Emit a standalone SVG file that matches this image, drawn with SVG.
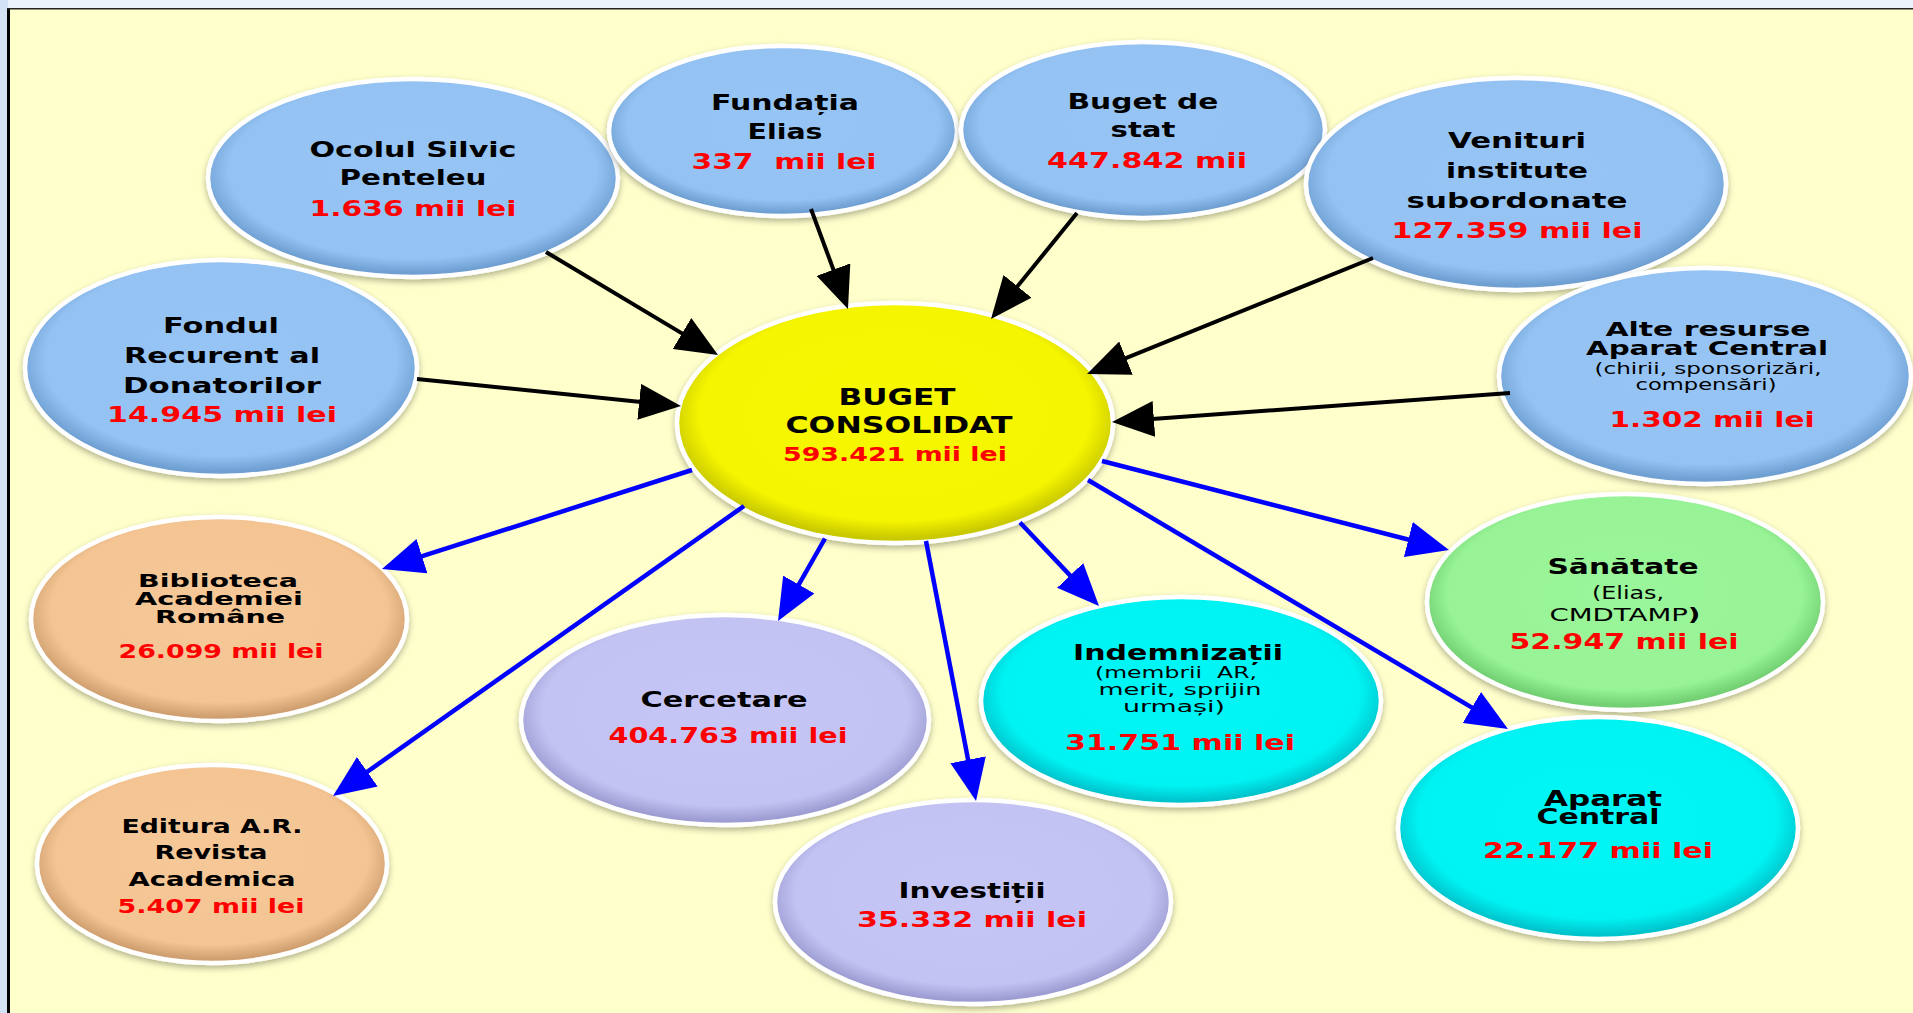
<svg xmlns="http://www.w3.org/2000/svg" width="1913" height="1013" viewBox="0 0 1913 1013">
<defs>
<style>
.t{font-family:"DejaVu Sans","Liberation Sans",sans-serif;font-weight:bold;text-anchor:middle;fill:#000}
.r{fill:#ff0000}
.s{font-weight:normal}
.nd{stroke:#ffffff;stroke-width:4.5;filter:url(#sh)}
.blk{stroke:#000;stroke-width:4;fill:none;marker-end:url(#ak)}
.blu{stroke:#0000ff;stroke-width:4.5;fill:none;marker-end:url(#ab)}
</style>
<filter id="sh" x="-10%" y="-10%" width="120%" height="130%">
<feDropShadow dx="0" dy="3" stdDeviation="3" flood-color="#000" flood-opacity="0.3"/>
</filter>
<radialGradient id="gB" cx="50%" cy="46%" r="52%"><stop offset="0" stop-color="#96c5f5"/><stop offset="0.86" stop-color="#94c3f3"/><stop offset="1" stop-color="#6f9fd2"/></radialGradient>
<radialGradient id="gY" cx="50%" cy="46%" r="52%"><stop offset="0" stop-color="#f7f700"/><stop offset="0.86" stop-color="#f5f500"/><stop offset="1" stop-color="#c9c900"/></radialGradient>
<radialGradient id="gP" cx="50%" cy="46%" r="52%"><stop offset="0" stop-color="#f6c898"/><stop offset="0.86" stop-color="#f4c593"/><stop offset="1" stop-color="#cf9f70"/></radialGradient>
<radialGradient id="gL" cx="50%" cy="46%" r="52%"><stop offset="0" stop-color="#c6c6f6"/><stop offset="0.86" stop-color="#c3c3f3"/><stop offset="1" stop-color="#9d9dd3"/></radialGradient>
<radialGradient id="gC" cx="50%" cy="46%" r="52%"><stop offset="0" stop-color="#00f6f6"/><stop offset="0.86" stop-color="#00f3f3"/><stop offset="1" stop-color="#00c4cc"/></radialGradient>
<radialGradient id="gG" cx="50%" cy="46%" r="52%"><stop offset="0" stop-color="#9af69a"/><stop offset="0.86" stop-color="#97f395"/><stop offset="1" stop-color="#72cf72"/></radialGradient>
<marker id="ak" viewBox="0 0 42 36" refX="36" refY="18" markerWidth="42" markerHeight="36" markerUnits="userSpaceOnUse" orient="auto"><path d="M0,0 L42,18 L0,36 z" fill="#000"/></marker>
<marker id="ab" viewBox="0 0 42 36" refX="36" refY="18" markerWidth="42" markerHeight="36" markerUnits="userSpaceOnUse" orient="auto"><path d="M0,0 L42,18 L0,36 z" fill="#0000ff"/></marker>
</defs>

<rect x="0" y="0" width="1913" height="1013" fill="#eaf1fa"/>
<rect x="0" y="0" width="8" height="1013" fill="#d3e2f4"/>
<rect x="8" y="9" width="1905" height="1004" fill="#ffffcc"/>
<rect x="7" y="9" width="3" height="1004" fill="#000"/>
<rect x="7" y="8" width="1906" height="1.5" fill="#222"/>

<g id="ocolul">
<ellipse class="nd" cx="413" cy="178" rx="205" ry="99" fill="url(#gB)"/>
<text class="t" x="413" y="157" font-size="22" textLength="207" lengthAdjust="spacingAndGlyphs">Ocolul Silvic</text>
<text class="t" x="413" y="185" font-size="22" textLength="147" lengthAdjust="spacingAndGlyphs">Penteleu</text>
<text class="t r" x="413" y="216" font-size="21" textLength="207" lengthAdjust="spacingAndGlyphs">1.636 mii lei</text>
</g>

<g id="fundatia">
<ellipse class="nd" cx="783" cy="131" rx="174" ry="85" fill="url(#gB)"/>
<text class="t" x="785" y="110" font-size="22" textLength="148" lengthAdjust="spacingAndGlyphs">Fundația</text>
<text class="t" x="785" y="139" font-size="22" textLength="75" lengthAdjust="spacingAndGlyphs">Elias</text>
<text class="t r" x="784" y="169" font-size="21" textLength="185" lengthAdjust="spacingAndGlyphs">337&#160; mii lei</text>
</g>

<g id="buget-stat">
<ellipse class="nd" cx="1143" cy="130" rx="182" ry="88" fill="url(#gB)"/>
<text class="t" x="1143" y="109" font-size="22" textLength="151" lengthAdjust="spacingAndGlyphs">Buget de</text>
<text class="t" x="1143" y="137" font-size="22" textLength="65" lengthAdjust="spacingAndGlyphs">stat</text>
<text class="t r" x="1147" y="168" font-size="21" textLength="200" lengthAdjust="spacingAndGlyphs">447.842 mii</text>
</g>

<g id="venituri">
<ellipse class="nd" cx="1516" cy="184" rx="210" ry="106" fill="url(#gB)"/>
<text class="t" x="1517" y="148" font-size="22" textLength="138" lengthAdjust="spacingAndGlyphs">Venituri</text>
<text class="t" x="1517" y="178" font-size="22" textLength="142" lengthAdjust="spacingAndGlyphs">institute</text>
<text class="t" x="1517" y="208" font-size="22" textLength="221" lengthAdjust="spacingAndGlyphs">subordonate</text>
<text class="t r" x="1517" y="238" font-size="21" textLength="251" lengthAdjust="spacingAndGlyphs">127.359 mii lei</text>
</g>

<g id="alte-resurse">
<ellipse class="nd" cx="1705" cy="376" rx="206" ry="108" fill="url(#gB)"/>
<text class="t" x="1708" y="336" font-size="19" textLength="205" lengthAdjust="spacingAndGlyphs">Alte resurse</text>
<text class="t" x="1707" y="355" font-size="19" textLength="242" lengthAdjust="spacingAndGlyphs">Aparat Central</text>
<text class="t s" x="1708" y="374" font-size="15" textLength="227" lengthAdjust="spacingAndGlyphs">(chirii, sponsorizări,</text>
<text class="t s" x="1706" y="390" font-size="15" textLength="141" lengthAdjust="spacingAndGlyphs">compensări)</text>
<text class="t r" x="1712" y="427" font-size="21" textLength="205" lengthAdjust="spacingAndGlyphs">1.302 mii lei</text>
</g>

<g id="fondul">
<ellipse class="nd" cx="221" cy="368" rx="196" ry="108" fill="url(#gB)"/>
<text class="t" x="221" y="333" font-size="22" textLength="116" lengthAdjust="spacingAndGlyphs">Fondul</text>
<text class="t" x="222" y="363" font-size="22" textLength="196" lengthAdjust="spacingAndGlyphs">Recurent al</text>
<text class="t" x="222" y="393" font-size="22" textLength="198" lengthAdjust="spacingAndGlyphs">Donatorilor</text>
<text class="t r" x="222" y="422" font-size="21" textLength="230" lengthAdjust="spacingAndGlyphs">14.945 mii lei</text>
</g>

<g id="biblioteca">
<ellipse class="nd" cx="219" cy="619" rx="188" ry="102" fill="url(#gP)"/>
<text class="t" x="218" y="587" font-size="18" textLength="160" lengthAdjust="spacingAndGlyphs">Biblioteca</text>
<text class="t" x="219" y="605" font-size="18" textLength="168" lengthAdjust="spacingAndGlyphs">Academiei</text>
<text class="t" x="220" y="623" font-size="18" textLength="130" lengthAdjust="spacingAndGlyphs">Române</text>
<text class="t r" x="221" y="658" font-size="19" textLength="205" lengthAdjust="spacingAndGlyphs">26.099 mii lei</text>
</g>

<g id="editura">
<ellipse class="nd" cx="212" cy="864" rx="175" ry="99" fill="url(#gP)"/>
<text class="t" x="212" y="833" font-size="19" textLength="181" lengthAdjust="spacingAndGlyphs">Editura A.R.</text>
<text class="t" x="211" y="859" font-size="19" textLength="113" lengthAdjust="spacingAndGlyphs">Revista</text>
<text class="t" x="212" y="886" font-size="19" textLength="167" lengthAdjust="spacingAndGlyphs">Academica</text>
<text class="t r" x="211" y="913" font-size="19" textLength="187" lengthAdjust="spacingAndGlyphs">5.407 mii lei</text>
</g>

<g id="cercetare">
<ellipse class="nd" cx="725" cy="720" rx="204" ry="105" fill="url(#gL)"/>
<text class="t" x="724" y="707" font-size="22" textLength="167" lengthAdjust="spacingAndGlyphs">Cercetare</text>
<text class="t r" x="728" y="743" font-size="21" textLength="239" lengthAdjust="spacingAndGlyphs">404.763 mii lei</text>
</g>

<g id="investitii">
<ellipse class="nd" cx="973" cy="902" rx="198" ry="102" fill="url(#gL)"/>
<text class="t" x="972" y="898" font-size="22" textLength="147" lengthAdjust="spacingAndGlyphs">Investiții</text>
<text class="t r" x="972" y="927" font-size="21" textLength="230" lengthAdjust="spacingAndGlyphs">35.332 mii lei</text>
</g>

<g id="indemnizatii">
<ellipse class="nd" cx="1181" cy="701" rx="200" ry="104" fill="url(#gC)"/>
<text class="t" x="1178" y="660" font-size="22" textLength="210" lengthAdjust="spacingAndGlyphs">Indemnizații</text>
<text class="t s" x="1176" y="678" font-size="16" textLength="162" lengthAdjust="spacingAndGlyphs">(membrii&#160; AR,</text>
<text class="t s" x="1180" y="695" font-size="16" textLength="163" lengthAdjust="spacingAndGlyphs">merit, sprijin</text>
<text class="t s" x="1174" y="712" font-size="16" textLength="102" lengthAdjust="spacingAndGlyphs">urmași)</text>
<text class="t r" x="1180" y="750" font-size="21" textLength="230" lengthAdjust="spacingAndGlyphs">31.751 mii lei</text>
</g>

<g id="sanatate">
<ellipse class="nd" cx="1625" cy="602" rx="198" ry="108" fill="url(#gG)"/>
<text class="t" x="1623" y="574" font-size="22" textLength="151" lengthAdjust="spacingAndGlyphs">Sănătate</text>
<text class="t s" x="1628" y="599" font-size="17" textLength="72" lengthAdjust="spacingAndGlyphs">(Elias,</text>
<text class="t s" x="1625" y="621" font-size="17" textLength="151" lengthAdjust="spacingAndGlyphs">CMDTAMP<tspan font-weight="bold">)</tspan></text>
<text class="t r" x="1624" y="649" font-size="21" textLength="229" lengthAdjust="spacingAndGlyphs">52.947 mii lei</text>
</g>

<g id="aparat-central">
<ellipse class="nd" cx="1598" cy="828" rx="200" ry="111" fill="url(#gC)"/>
<text class="t" x="1603" y="806" font-size="21" textLength="118" lengthAdjust="spacingAndGlyphs">Aparat</text>
<text class="t" x="1598" y="824" font-size="21" textLength="123" lengthAdjust="spacingAndGlyphs">Central</text>
<text class="t r" x="1598" y="858" font-size="21" textLength="230" lengthAdjust="spacingAndGlyphs">22.177 mii lei</text>
</g>

<g id="buget-consolidat">
<ellipse class="nd" cx="895" cy="423" rx="218" ry="120" fill="url(#gY)"/>
<text class="t" x="897" y="405" font-size="23" textLength="117" lengthAdjust="spacingAndGlyphs">BUGET</text>
<text class="t" x="899" y="433" font-size="23" textLength="227" lengthAdjust="spacingAndGlyphs">CONSOLIDAT</text>
<text class="t r" x="895" y="461" font-size="20" textLength="224" lengthAdjust="spacingAndGlyphs">593.421 mii lei</text>
</g>

<g id="connectors">
<line class="blk" x1="546" y1="252" x2="712.9" y2="351.9"/>
<line class="blk" x1="417" y1="379" x2="675" y2="405.4"/>
<line class="blk" x1="811" y1="209" x2="845.9" y2="303.4"/>
<line class="blk" x1="1077" y1="213" x2="994.8" y2="314.3"/>
<line class="blk" x1="1373" y1="258" x2="1092.6" y2="371.7"/>
<line class="blk" x1="1510" y1="393" x2="1118" y2="421.6"/>
<line class="blu" x1="692" y1="470" x2="387.7" y2="567.2"/>
<line class="blu" x1="744" y1="506" x2="337.9" y2="792.5"/>
<line class="blu" x1="825" y1="538.5" x2="781" y2="615.8"/>
<line class="blu" x1="926" y1="541" x2="974.9" y2="795.1"/>
<line class="blu" x1="1020" y1="522.5" x2="1094.9" y2="601.6"/>
<line class="blu" x1="1102" y1="461" x2="1443.2" y2="548.5"/>
<line class="blu" x1="1088" y1="480" x2="1502.8" y2="725.9"/>
</g>
</svg>
